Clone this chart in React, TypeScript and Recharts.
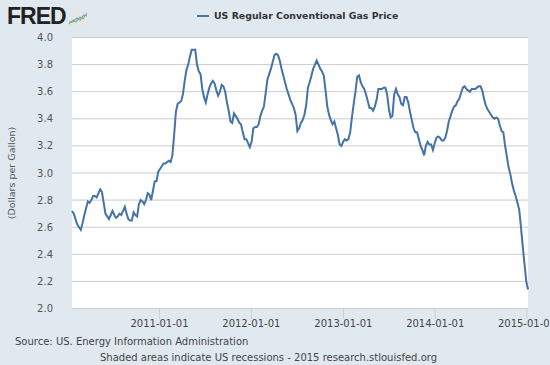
import { CartesianGrid, Line, LineChart, XAxis, YAxis } from "recharts";

// weekly US regular conventional retail gasoline price, $/gal
// first observation is the week of 2010-01-18, one value per week after that
const firstWeek = "2010-01-18";

const gas2010 = [
  2.72, 2.7, 2.66, 2.62, 2.6, 2.58, 2.63, 2.69, 2.74, 2.79,
  2.78, 2.8, 2.83, 2.83, 2.82, 2.85, 2.88, 2.86, 2.78, 2.7,
  2.68, 2.66, 2.69, 2.72, 2.69, 2.67, 2.68, 2.7, 2.69, 2.72,
  2.75, 2.7, 2.66, 2.65, 2.65, 2.71, 2.69, 2.68, 2.77, 2.8,
  2.79, 2.77, 2.8, 2.85, 2.84, 2.8, 2.87, 2.94, 2.94, 3.01
];

const gas2011 = [
  3.03, 3.05, 3.07, 3.07, 3.08, 3.09, 3.08, 3.13, 3.28, 3.45,
  3.51, 3.52, 3.53, 3.58, 3.68, 3.76, 3.8, 3.86, 3.91, 3.91,
  3.91, 3.8, 3.75, 3.73, 3.62, 3.56, 3.52, 3.58, 3.63, 3.66,
  3.68, 3.66, 3.61, 3.57, 3.6, 3.65, 3.64, 3.6, 3.52, 3.46,
  3.38, 3.37, 3.44, 3.42, 3.4, 3.37, 3.36, 3.3, 3.25, 3.25,
  3.22, 3.19
];

const gas2012 = [
  3.23, 3.33, 3.34, 3.34, 3.36, 3.42, 3.46, 3.49, 3.59, 3.69,
  3.73, 3.77, 3.82, 3.87, 3.88, 3.87, 3.83, 3.77, 3.72, 3.67,
  3.62, 3.58, 3.54, 3.51, 3.48, 3.43, 3.31, 3.33, 3.37, 3.39,
  3.43, 3.5, 3.63, 3.67, 3.72, 3.77, 3.8, 3.83, 3.8, 3.77,
  3.75, 3.72, 3.61, 3.49, 3.43, 3.39, 3.36, 3.38, 3.33, 3.28,
  3.21, 3.2
];

const gas2013 = [
  3.23, 3.25, 3.24, 3.25, 3.3, 3.41, 3.51, 3.6, 3.71, 3.72,
  3.67, 3.64, 3.62, 3.58, 3.53, 3.48, 3.48, 3.46, 3.49, 3.54,
  3.62, 3.62, 3.62, 3.63, 3.63, 3.58, 3.47, 3.41, 3.42, 3.58,
  3.62, 3.58, 3.56, 3.51, 3.5, 3.56, 3.56, 3.52, 3.45, 3.39,
  3.33, 3.3, 3.3, 3.25, 3.2, 3.17, 3.13, 3.2, 3.23, 3.21,
  3.21, 3.17
];

const gas2014 = [
  3.22, 3.26, 3.27, 3.26, 3.24, 3.24, 3.26, 3.31, 3.38, 3.42,
  3.46, 3.49, 3.5, 3.53, 3.55, 3.59, 3.63, 3.64, 3.62, 3.61,
  3.6, 3.62, 3.62, 3.62, 3.63, 3.64, 3.64, 3.61, 3.55, 3.5,
  3.47, 3.45, 3.43, 3.41, 3.4, 3.41, 3.4, 3.35, 3.31, 3.3,
  3.2, 3.12, 3.04, 2.99, 2.92, 2.87, 2.83, 2.78, 2.73, 2.6,
  2.46, 2.33, 2.2, 2.14
];

const yTicks = [2.0, 2.2, 2.4, 2.6, 2.8, 3.0, 3.2, 3.4, 3.6, 3.8, 4.0];
const xTickLabels = ["2011-01-01", "2012-01-01", "2013-01-01", "2014-01-01", "2015-01-01"];

const WEEK = 7 * 24 * 3600 * 1000;
const start = Date.parse(firstWeek);
const prices = [...gas2010, ...gas2011, ...gas2012, ...gas2013, ...gas2014];
const data = prices.map((price, i) => ({ date: start + i * WEEK, price }));
const xTicks = xTickLabels.map((label) => Date.parse(label));

const font = "'DejaVu Sans', Verdana, sans-serif";

function FredLogo() {
  return (
    <div style={{ position: "absolute", left: 7, top: 3, display: "flex", alignItems: "flex-end" }}>
      <span
        style={{
          fontFamily: "'Liberation Sans', Arial, sans-serif",
          fontWeight: 700,
          fontSize: 23,
          letterSpacing: -1,
          color: "#222",
          lineHeight: "26px"
        }}
      >
        FRED
      </span>
      <svg width={20} height={16} style={{ marginLeft: 2, marginBottom: 3 }}>
        <rect x={0} y={0} width={20} height={16} fill="#e4e6e8" />
        <polyline points="1,14 5,10 8,12 12,7 15,9 19,3" fill="none" stroke="#8bc34a" strokeWidth={1.2} />
        <polyline points="1,12 5,12 9,8 12,10 16,5 19,6" fill="none" stroke="#6f9ad6" strokeWidth={1.2} />
      </svg>
    </div>
  );
}

export default function App() {
  return (
    <div
      style={{
        position: "absolute",
        left: 0,
        top: 0,
        width: 550,
        height: 365,
        background: "#e1e9f0",
        overflow: "hidden",
        fontFamily: font
      }}
    >
      <FredLogo />
      <div style={{ position: "absolute", left: 197, top: 9, display: "flex", alignItems: "center" }}>
        <div style={{ width: 12, height: 2, background: "#4572a7", marginRight: 5 }} />
        <span style={{ fontSize: 9.4, fontWeight: 700, color: "#333", lineHeight: "14px" }}>
          US Regular Conventional Gas Price
        </span>
      </div>
      <LineChart width={550} height={365} data={data} margin={{ top: 37.5, right: 22, bottom: 0, left: 0 }}>
        <CartesianGrid vertical={false} fill="#ffffff" stroke="#cccccc" />
        <XAxis
          dataKey="date"
          type="number"
          domain={["dataMin", "dataMax"]}
          ticks={xTicks}
          interval={0}
          height={56.5}
          tickFormatter={(value) => new Date(value).toISOString().slice(0, 10)}
          axisLine={false}
          tickLine={{ stroke: "#c3d1de" }}
          tickSize={10}
          tickMargin={1}
          tick={{ fontSize: 10, fill: "#444", fontFamily: font }}
        />
        <YAxis
          type="number"
          domain={[2, 4]}
          ticks={yTicks}
          width={72}
          axisLine={false}
          tickLine={false}
          tickSize={0}
          tickMargin={19}
          tickFormatter={(value) => Number(value).toFixed(1)}
          tick={{ fontSize: 10, fill: "#555", fontFamily: font }}
        />
        <Line
          type="linear"
          dataKey="price"
          stroke="#4572a7"
          strokeWidth={2}
          dot={false}
          isAnimationActive={false}
        />
      </LineChart>
      <div
        style={{
          position: "absolute",
          left: -88,
          top: 167,
          width: 200,
          height: 12,
          lineHeight: "12px",
          textAlign: "center",
          fontSize: 9.5,
          color: "#555",
          transform: "rotate(-90deg)"
        }}
      >
        (Dollars per Gallon)
      </div>
      <div style={{ position: "absolute", left: 15, top: 335, fontSize: 10, color: "#444", lineHeight: "14px" }}>
        Source: US. Energy Information Administration
      </div>
      <div style={{ position: "absolute", left: 100, top: 351, fontSize: 10, color: "#444", lineHeight: "14px" }}>
        Shaded areas indicate US recessions - 2015 research.stlouisfed.org
      </div>
    </div>
  );
}
